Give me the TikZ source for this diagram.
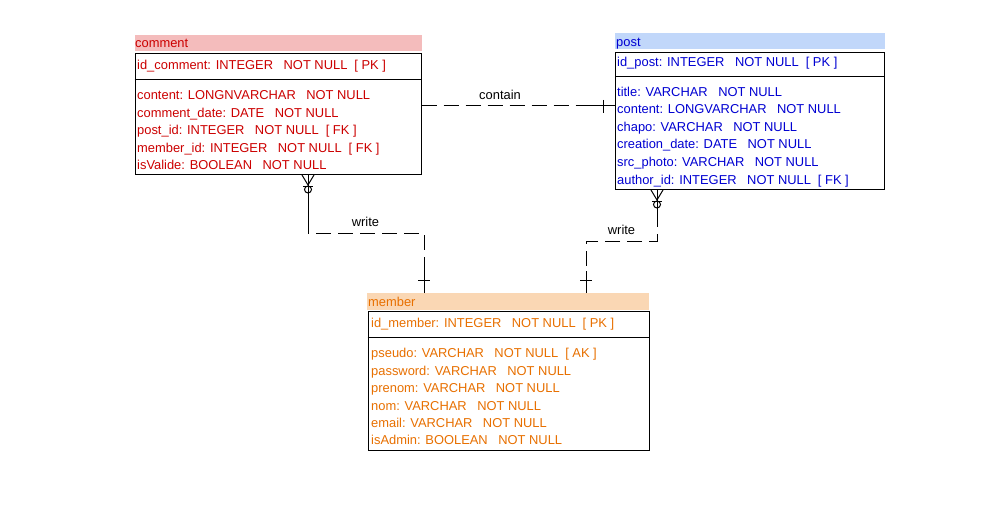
\documentclass[tikz,border=0pt]{standalone}
\usepackage{fontspec}
\setmainfont{Liberation Sans}
\definecolor{cred}{RGB}{204,0,0}
\definecolor{credhdr}{RGB}{244,188,188}
\definecolor{cblue}{RGB}{0,0,210}
\definecolor{cbluehdr}{RGB}{193,215,250}
\definecolor{corange}{RGB}{232,112,0}
\definecolor{corangehdr}{RGB}{250,215,180}
\newcommand{\erfont}{\fontsize{12.9}{14}\selectfont}
\newcommand{\gthree}{\hspace{10.5pt}}
\newcommand{\gtwo}{\hspace{7pt}}
\tikzset{
  hdr/.style={draw=none, anchor=north west, inner sep=0},
  entbox/.style={draw=black, line width=1pt, anchor=north west, inner sep=0},
  fld/.style={anchor=base west, inner sep=0, font=\erfont},
  conn/.style={line width=1pt, dash pattern=on 15pt off 7pt},
  solidln/.style={line width=1pt},
  lbl/.style={anchor=base, inner sep=0, font=\erfont, text=black}
}
\begin{document}
\begin{tikzpicture}[x=1pt,y=-1pt]
\useasboundingbox[fill=white] (0,0) rectangle (1000,505);

% ---------- comment ----------
\node[hdr, fill=credhdr, minimum width=287pt, minimum height=16pt] (commentH) at (134.5,35) {};
\node[fld, text=cred] (commentT) at (135,48) {comment};
\node[entbox, minimum width=286pt, minimum height=121pt] (comment) at (134.5,53) {};
\draw[solidln] (comment.west |- 0,80) coordinate (cs1) -- (comment.east |- 0,80) coordinate (cs2);
\begin{scope}[every node/.style={fld, text=cred}]
\node (c0) at (137,69.5) {id\_comment: INTEGER\gthree NOT NULL\gtwo [ PK ]};
\node (c1) at (137,100) {content: LONGNVARCHAR\gthree NOT NULL};
\node (c2) at (137,117.3) {comment\_date: DATE\gthree NOT NULL};
\node (c3) at (137,134.8) {post\_id: INTEGER\gthree NOT NULL\gtwo [ FK ]};
\node (c4) at (137,152.2) {member\_id: INTEGER\gthree NOT NULL\gtwo [ FK ]};
\node (c5) at (137,169.5) {isValide: BOOLEAN\gthree NOT NULL};
\end{scope}

% ---------- post ----------
\node[hdr, fill=cbluehdr, minimum width=270pt, minimum height=16pt] (postH) at (614.5,33) {};
\node[fld, text=cblue] (postT) at (616,46.7) {post};
\node[entbox, minimum width=269pt, minimum height=137pt] (post) at (615,52) {};
\draw[solidln] (post.west |- 0,77) coordinate (ps1) -- (post.east |- 0,77) coordinate (ps2);
\begin{scope}[every node/.style={fld, text=cblue}]
\node (p0) at (617,67) {id\_post: INTEGER\gthree NOT NULL\gtwo [ PK ]};
\node (p1) at (617,96.7) {title: VARCHAR\gthree NOT NULL};
\node (p2) at (617,114) {content: LONGVARCHAR\gthree NOT NULL};
\node (p3) at (617,131.7) {chapo: VARCHAR\gthree NOT NULL};
\node (p4) at (617,149) {creation\_date: DATE\gthree NOT NULL};
\node (p5) at (617,166.7) {src\_photo: VARCHAR\gthree NOT NULL};
\node (p6) at (617,184) {author\_id: INTEGER\gthree NOT NULL\gtwo [ FK ]};
\end{scope}

% ---------- member ----------
\node[hdr, fill=corangehdr, minimum width=282pt, minimum height=17pt] (memberH) at (367,293) {};
\node[fld, text=corange] (memberT) at (368,306) {member};
\node[entbox, minimum width=281pt, minimum height=139pt] (member) at (367.5,311) {};
\draw[solidln] (member.west |- 0,337) coordinate (ms1) -- (member.east |- 0,337) coordinate (ms2);
\begin{scope}[every node/.style={fld, text=corange}]
\node (m0) at (371,327.7) {id\_member: INTEGER\gthree NOT NULL\gtwo [ PK ]};
\node (m1) at (371,357.7) {pseudo: VARCHAR\gthree NOT NULL\gtwo [ AK ]};
\node (m2) at (371,375) {password: VARCHAR\gthree NOT NULL};
\node (m3) at (371,392.3) {prenom: VARCHAR\gthree NOT NULL};
\node (m4) at (371,410) {nom: VARCHAR\gthree NOT NULL};
\node (m5) at (371,427.3) {email: VARCHAR\gthree NOT NULL};
\node (m6) at (371,444.3) {isAdmin: BOOLEAN\gthree NOT NULL};
\end{scope}

% ---------- contain ----------
\coordinate (k1) at (comment.east |- 0,106);
\coordinate (k2) at (post.west |- 0,106);
\draw[conn] (k1) -- (k2);
\draw[solidln] (k2) -- ++(-25,0);
\draw[solidln] ([xshift=-12pt]k2) ++(0,-6) -- ++(0,13);
\node[lbl] (lcontain) at (500,99.3) {contain};

% ---------- write (comment - member) ----------
\coordinate (w1a) at (comment.south -| 308,0);
\coordinate (w1b) at (308,233);
\coordinate (w1c) at (424,233);
\coordinate (w1d) at (memberH.north -| 424,0);
\draw[conn] (w1a) -- (w1b) -- (w1c) -- (w1d);
\draw[solidln] (w1a) -- ++(0,45);
\draw[solidln] (w1d) -- ++(0,-22);
% crow's foot + zero
\draw[solidln] ([shift={(-6,0)}]w1a) -- ([shift={(0,10)}]w1a) -- ([shift={(6,0)}]w1a);
\draw[solidln] ([shift={(-5,11)}]w1a) -- ([shift={(5,11)}]w1a);
\draw[solidln] ([shift={(0,14.5)}]w1a) circle (3.5pt);
% one
\draw[solidln] ([shift={(-6,-13)}]w1d) -- ([shift={(6,-13)}]w1d);
\node[lbl] (lwrite1) at (365.5,226) {write};

% ---------- write (post - member) ----------
\coordinate (w2a) at (post.south -| 657,0);
\coordinate (w2b) at (657,241);
\coordinate (w2c) at (586,241);
\coordinate (w2d) at (memberH.north -| 586,0);
\draw[conn] (w2a) -- (w2b) -- (w2c) -- (w2d);
\draw[solidln] (w2a) -- ++(0,35);
\draw[solidln] (w2d) -- ++(0,-22);
\draw[solidln] ([shift={(-6,0)}]w2a) -- ([shift={(0,10)}]w2a) -- ([shift={(6,0)}]w2a);
\draw[solidln] ([shift={(-5,11)}]w2a) -- ([shift={(5,11)}]w2a);
\draw[solidln] ([shift={(0,14.5)}]w2a) circle (3.5pt);
\draw[solidln] ([shift={(-6,-13)}]w2d) -- ([shift={(6,-13)}]w2d);
\node[lbl] (lwrite2) at (621.5,234) {write};
\end{tikzpicture}
\end{document}
